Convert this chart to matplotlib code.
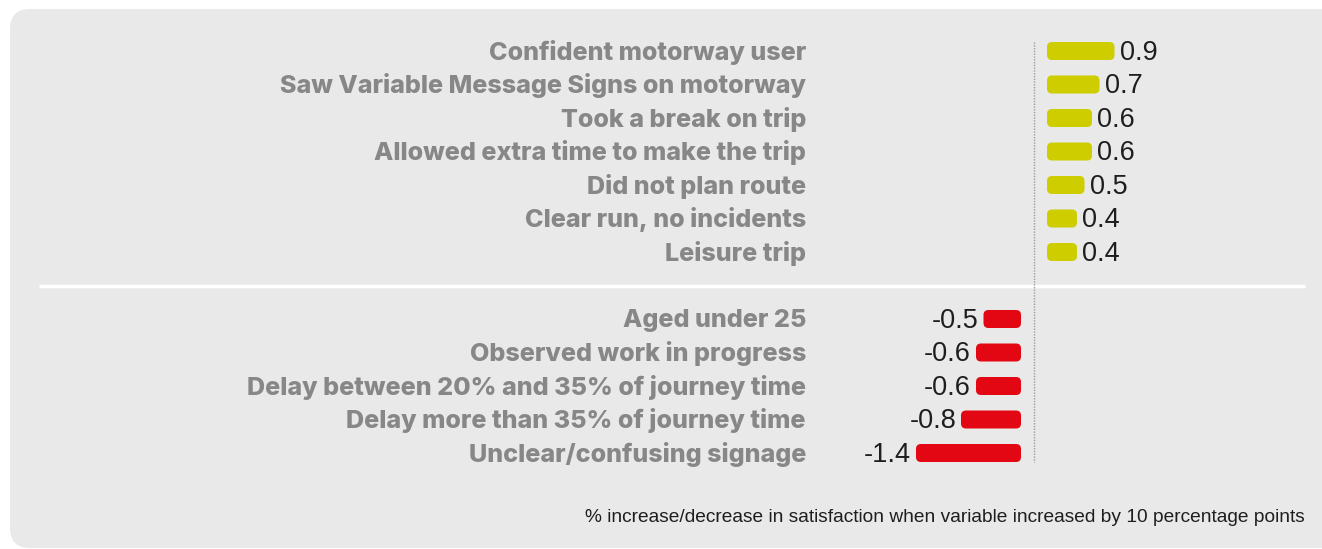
import matplotlib
matplotlib.use("Agg")
import matplotlib.pyplot as plt
from matplotlib.patches import FancyBboxPatch
from matplotlib.transforms import ScaledTranslation, blended_transform_factory

# Drivers of satisfaction (% change when variable increased by 10 percentage points)
pos_labels = [
    "Confident motorway user",
    "Saw Variable Message Signs on motorway",
    "Took a break on trip",
    "Allowed extra time to make the trip",
    "Did not plan route",
    "Clear run, no incidents",
    "Leisure trip",
]
pos_values = [0.9, 0.7, 0.6, 0.6, 0.5, 0.4, 0.4]

neg_labels = [
    "Aged under 25",
    "Observed work in progress",
    "Delay between 20% and 35% of journey time",
    "Delay more than 35% of journey time",
    "Unclear/confusing signage",
]
neg_values = [-0.5, -0.6, -0.6, -0.8, -1.4]

footnote = "% increase/decrease in satisfaction when variable increased by 10 percentage points"

POS_COLOR = "#cdcd00"
NEG_COLOR = "#e30613"
LABEL_COLOR = "#878787"
VALUE_COLOR = "#1e1e1e"
PANEL_COLOR = "#e9e9e9"

W, H, DPI = 1322, 549, 100
fig = plt.figure(figsize=(W / DPI, H / DPI), dpi=DPI)
fig.patch.set_facecolor("white")

# Rounded background panel (figure pixel coordinates)
panel = FancyBboxPatch((10, 1), W + 40, H - 10,
                       boxstyle="round,pad=0,rounding_size=20",
                       transform=None, facecolor=PANEL_COLOR,
                       edgecolor="none", zorder=-5)
fig.patches.append(panel)

# Axes spans full width; zero sits at pixel 1034, 75 px per unit
px_per_unit = 75.0
zero_px = 1034.0
row_px = 33.5
row0_px = 51.0
top_px, bot_px = 20.0, 500.0
ax = fig.add_axes([0, 1 - bot_px / H, 1, (bot_px - top_px) / H])
ax.set_zorder(2)
ax.set_xlim(-zero_px / px_per_unit, (W - zero_px) / px_per_unit)
ax.set_ylim((bot_px - row0_px) / row_px, (top_px - row0_px) / row_px)
ax.axis("off")
ax.patch.set_alpha(0)

labels = pos_labels + neg_labels
values = pos_values + neg_values
rows = list(range(len(pos_labels))) + [len(pos_labels) + 1 + i for i in range(len(neg_labels))]

bar_h = 18 / row_px
gap_in = 13 / DPI
round_px = 5.0
y_per_px = 1 / row_px
x_per_px = 1 / px_per_unit

text_tr = blended_transform_factory(ax.transAxes, ax.transData)
label_x = 806 / W

for lab, val, r in zip(labels, values, rows):
    sign = 1 if val > 0 else -1
    color = POS_COLOR if val > 0 else NEG_COLOR
    shift = ScaledTranslation(sign * gap_in, 0, fig.dpi_scale_trans)
    left = min(0, val)
    bar = FancyBboxPatch((left, r - bar_h / 2), abs(val), bar_h,
                         boxstyle=f"round,pad=0,rounding_size={round_px * x_per_px}",
                         mutation_aspect=y_per_px / x_per_px,
                         facecolor=color, edgecolor="none",
                         transform=ax.transData + shift, zorder=3)
    ax.add_patch(bar)
    vshift = ScaledTranslation(sign * (gap_in + 5 / DPI), 0, fig.dpi_scale_trans)
    ax.text(val, r - 0.03, f"{val:.1f}", transform=ax.transData + vshift,
            ha="left" if val > 0 else "right", va="center_baseline",
            fontsize=19.5, color=VALUE_COLOR, family="Liberation Sans")
    ax.text(label_x, r - 0.03, lab, transform=text_tr, ha="right", va="center_baseline",
            fontsize=18.1, fontweight="heavy", color=LABEL_COLOR,
            family="Inter")

# Dotted zero line
ax.plot([0, 0], [-0.28, rows[-1] + 0.28], linestyle=(0, (1, 1)),
        color="#9a9a9a", lw=1.0, zorder=2)

# White separator between the two groups
sep_y = len(pos_labels)
ax.plot([39 / W, 1305 / W], [sep_y, sep_y], transform=text_tr,
        color="white", lw=2.5, solid_capstyle="butt", zorder=1)

fig.text(1305 / W, 1 - 518 / H, footnote, ha="right", va="center",
         fontsize=13.8, color=VALUE_COLOR, family="Liberation Sans")

fig.savefig("out.png", dpi=DPI)
